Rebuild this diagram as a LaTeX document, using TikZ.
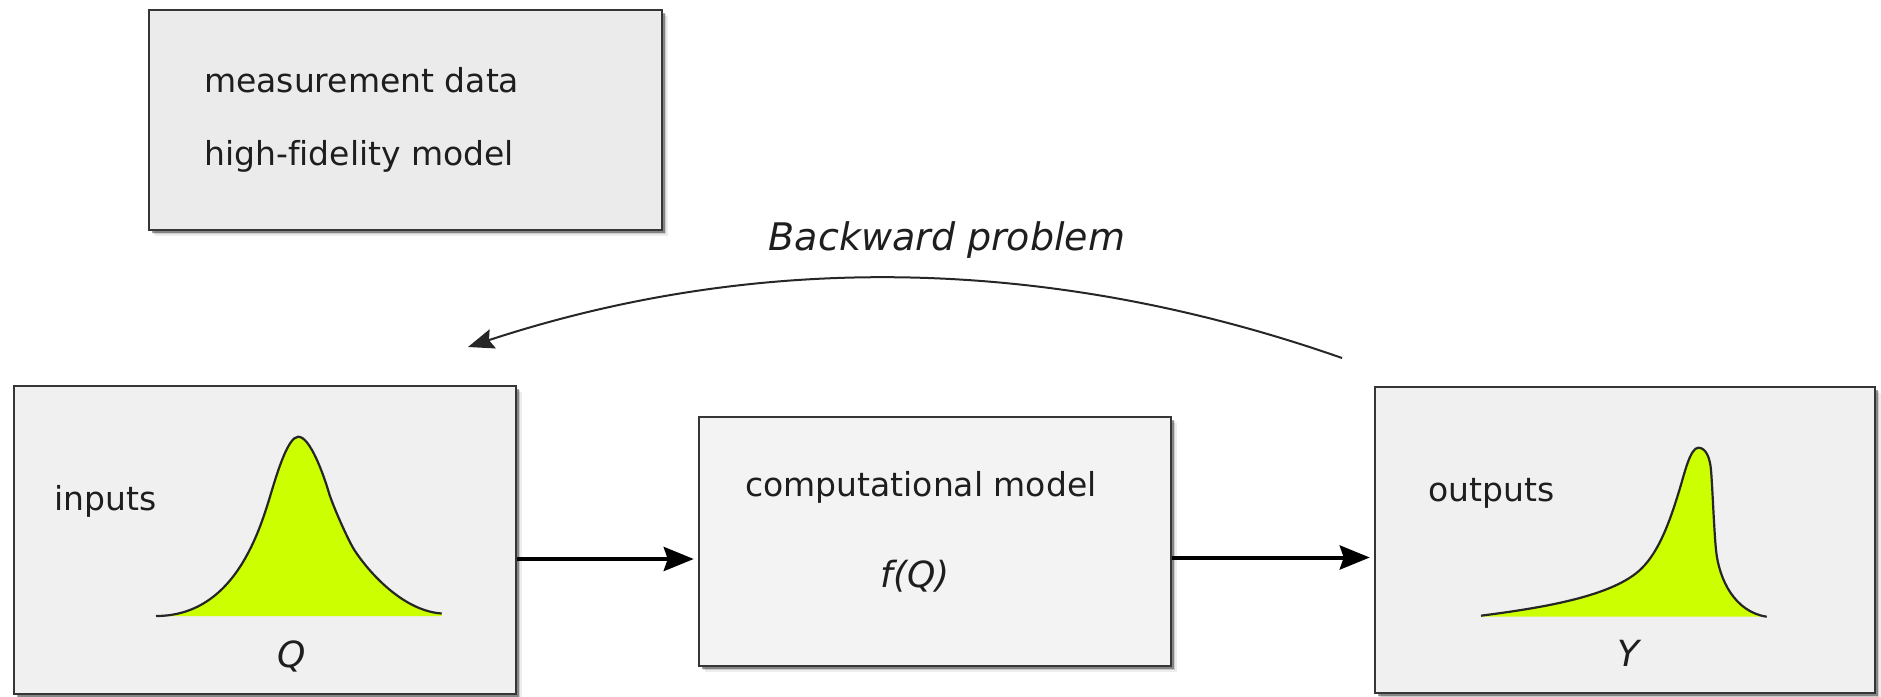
\documentclass[tikz,border=0pt]{standalone}
\usepackage{fontspec}
\setmainfont{DejaVu Sans}[Ligatures=NoCommon]
\usetikzlibrary{arrows.meta,shadows}

\definecolor{boxline}{HTML}{363636}
\definecolor{inkc}{HTML}{1E1E1E}
\definecolor{pdffill}{HTML}{CCFF00}
\definecolor{fillA}{HTML}{EBEBEB}
\definecolor{fillB}{HTML}{F0F0F0}
\definecolor{fillC}{HTML}{F3F3F3}

\begin{document}
\begin{tikzpicture}[x=1pt,y=-1pt,
  box/.style={draw=boxline, line width=2.5pt, rectangle, inner sep=0pt,
    general shadow={shadow xshift=6pt, shadow yshift=-6pt, fill=black, opacity=0.07},
    general shadow={shadow xshift=4pt, shadow yshift=-4pt, fill=black, opacity=0.14},
    general shadow={shadow xshift=2.5pt, shadow yshift=-2.5pt, fill=black, opacity=0.35}},
  lbl/.style={text=inkc, font=\fontsize{33}{40}\selectfont, inner sep=0pt, anchor=base west},
  sym/.style={text=inkc, font=\fontsize{36}{42}\selectfont\itshape, inner sep=0pt, anchor=base},
  headline/.style={text=inkc, font=\fontsize{38}{45}\selectfont\itshape, inner sep=0pt, anchor=base},
  flow/.style={draw=black, line width=4pt, -{Stealth[length=30pt,width=24pt,inset=4pt]}},
  backflow/.style={draw=black!85, line width=2pt, -{Stealth[length=26pt,width=20pt,inset=4pt]}},
  curve/.style={draw=black!85, line width=2.2pt},
]
\useasboundingbox (0,0) rectangle (1881,696);

% boxes
\node[box, fill=fillA, minimum width=513pt, minimum height=220pt] (info) at (405.5,120) {};
\node[box, fill=fillB, minimum width=502pt, minimum height=308pt] (inputs) at (265,540) {};
\node[box, fill=fillC, minimum width=472pt, minimum height=249pt] (cm) at (935,541.5) {};
\node[box, fill=fillB, minimum width=500pt, minimum height=306pt] (outputs) at (1625,540) {};

% labels
\node[lbl] (mdata) at (204,92) {measurement data};
\node[lbl] (hfm) at (204,165) {high-fidelity model};
\node[lbl] (inlbl) at (54,510) {inputs};
\node[lbl] (outlbl) at (1428,501) {outputs};
\node[lbl] (cmlbl) at (745,496) {computational model};
\node[sym] (qv) at (292,667) {Q};
\node[sym] (yv) at (1628,666) {Y};
\node[sym] (fq) at (915,587) {f(Q)};
\node[headline] (bp) at (947,250) {Backward problem};

% input distribution (bell with slightly heavier right tail)
\def\incurve{(156,616) .. controls (236,616) and (260.4,528.3) .. (272,490)
  .. controls (277.8,470.9) and (288.3,436.7) .. (298.3,436.7)
  .. controls (310.3,436.7) and (323.9,475.7) .. (329,493)
  .. controls (332.4,504.5) and (348.3,541) .. (355,551)
  .. controls (371.7,576) and (405,611) .. (441.7,613.5)}
\fill[pdffill] \incurve -- (441.7,616) -- cycle;
\draw[curve] \incurve;

% output distribution (skewed, long left tail)
\def\outcurve{(1481,615.7) .. controls (1541,607.9) and (1613.4,596.6) .. (1641.7,568.3)
  .. controls (1659.4,550.6) and (1669.85,521.5) .. (1680,488)
  .. controls (1684.35,473.6) and (1690.3,447.7) .. (1698.3,447.7)
  .. controls (1706,447.7) and (1710,458) .. (1711,470)
  .. controls (1712.5,488) and (1714,530) .. (1716,550)
  .. controls (1719,580) and (1735,612) .. (1766.7,616.7)}
\fill[pdffill] \outcurve -- (1481,616.5) -- cycle;
\draw[curve] \outcurve;

% connectors
\coordinate (rowA) at (0,559);
\coordinate (rowB) at (0,557.5);
\draw[flow, shorten >=4pt] (inputs.east |- rowA) -- (cm.west |- rowA);
\draw[flow, shorten >=4pt] (cm.east |- rowB) -- (outputs.west |- rowB);

\coordinate (bstart) at (1342,358);
\coordinate (bend) at (468,347);
\draw[backflow] (bstart) .. controls (1048.7,255.3) and (757.7,251.7) .. (bend);
\end{tikzpicture}
\end{document}
